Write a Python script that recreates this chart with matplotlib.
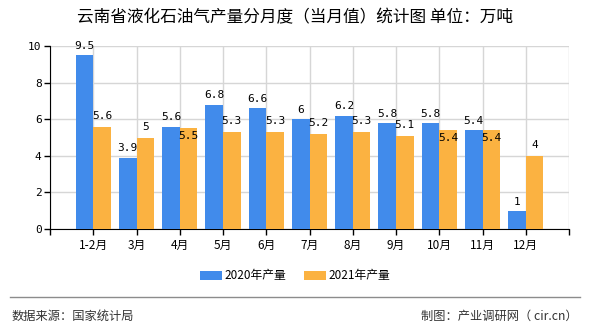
import numpy as np
import matplotlib.pyplot as plt
from matplotlib.lines import Line2D

plt.rcParams['font.family'] = ['Noto Sans CJK SC', 'DejaVu Sans']

# %% data
months = ["1-2月", "3月", "4月", "5月", "6月", "7月", "8月", "9月", "10月", "11月", "12月"]
prod_2020 = [9.5, 3.9, 5.6, 6.8, 6.6, 6.0, 6.2, 5.8, 5.8, 5.4, 1.0]
prod_2021 = [5.6, 5.0, 5.5, 5.3, 5.3, 5.2, 5.3, 5.1, 5.4, 5.4, 4.0]
series_names = ["2020年产量", "2021年产量"]
yticks = [0, 2, 4, 6, 8, 10]

# 2021 labels that get pushed inside the bar (collide with the 2020 label)
inside_2021 = {2, 8, 9}

blue = "#418BEB"
orange = "#FBB241"
grid_col = "#D6D6D6"
label_font = dict(family="DejaVu Sans Mono", fontsize=8, color="black")

# %% figure
fig = plt.figure(figsize=(5.9, 3.3), dpi=100)
ax = fig.add_axes([50 / 590, 1 - 229 / 330, 519 / 590, 183 / 330])

x = np.arange(1, len(months) + 1)
w = 0.41
b1 = ax.bar(x - w / 2, prod_2020, width=w, color=blue, label=series_names[0], zorder=3)
b2 = ax.bar(x + w / 2, prod_2021, width=w, color=orange, label=series_names[1], zorder=3)

def fmt(v):
    return f"{v:g}"

for i, v in enumerate(prod_2020):
    ax.annotate(fmt(v), (x[i] - w / 2, v), xytext=(0, 3), textcoords="offset points",
                ha="center", va="bottom", zorder=5, **label_font)
for i, v in enumerate(prod_2021):
    if i in inside_2021:
        ax.annotate(fmt(v), (x[i] + w / 2, v), xytext=(0, -2), textcoords="offset points",
                    ha="center", va="top", zorder=5, **label_font)
    else:
        ax.annotate(fmt(v), (x[i] + w / 2, v), xytext=(0, 4), textcoords="offset points",
                    ha="center", va="bottom", zorder=5, **label_font)

ax.set_xlim(0, len(months) + 1)
ax.set_ylim(0, 10)
ax.set_yticks(yticks)
ax.set_yticklabels([str(t) for t in yticks], family="DejaVu Sans Mono", fontsize=8)
ax.set_xticks(list(x))
ax.set_xticklabels(months, fontsize=8.5)
ax.set_xticks([0, len(months) + 1], minor=True)
ax.tick_params(axis="x", which="both", direction="out", length=4, width=1, pad=3)
ax.tick_params(axis="y", direction="out", length=4, width=1, pad=2)

ax.grid(True, color=grid_col, linewidth=1, zorder=0)
ax.grid(True, which="minor", axis="x", color=grid_col, linewidth=1, zorder=0)
for s in ["top", "right"]:
    ax.spines[s].set_visible(False)
ax.spines["left"].set_color("black")
ax.spines["bottom"].set_color("black")

fig.text(0.5, 1 - 18 / 330, "云南省液化石油气产量分月度（当月值）统计图 单位：万吨",
         ha="center", va="center", fontsize=12)

fig.legend(handles=[b1, b2], labels=series_names, loc="center", ncol=2,
           bbox_to_anchor=(0.5, 1 - 276 / 330), frameon=False, fontsize=8.5,
           handlelength=1.9, handleheight=0.85, columnspacing=1.5, handletextpad=0.2)

fig.add_artist(Line2D([10 / 590, 580 / 590], [1 - 297 / 330] * 2, color="#8C8C8C",
                      linewidth=1, transform=fig.transFigure))
fig.text(12 / 590, 1 - 316 / 330, "数据来源：国家统计局", ha="left", va="center",
         fontsize=8.8, color="#333333")
fig.text(578 / 590, 1 - 316 / 330, "制图：产业调研网（ cir.cn）", ha="right", va="center",
         fontsize=8.8, color="#333333")

plt.savefig("out.png", dpi=100)
